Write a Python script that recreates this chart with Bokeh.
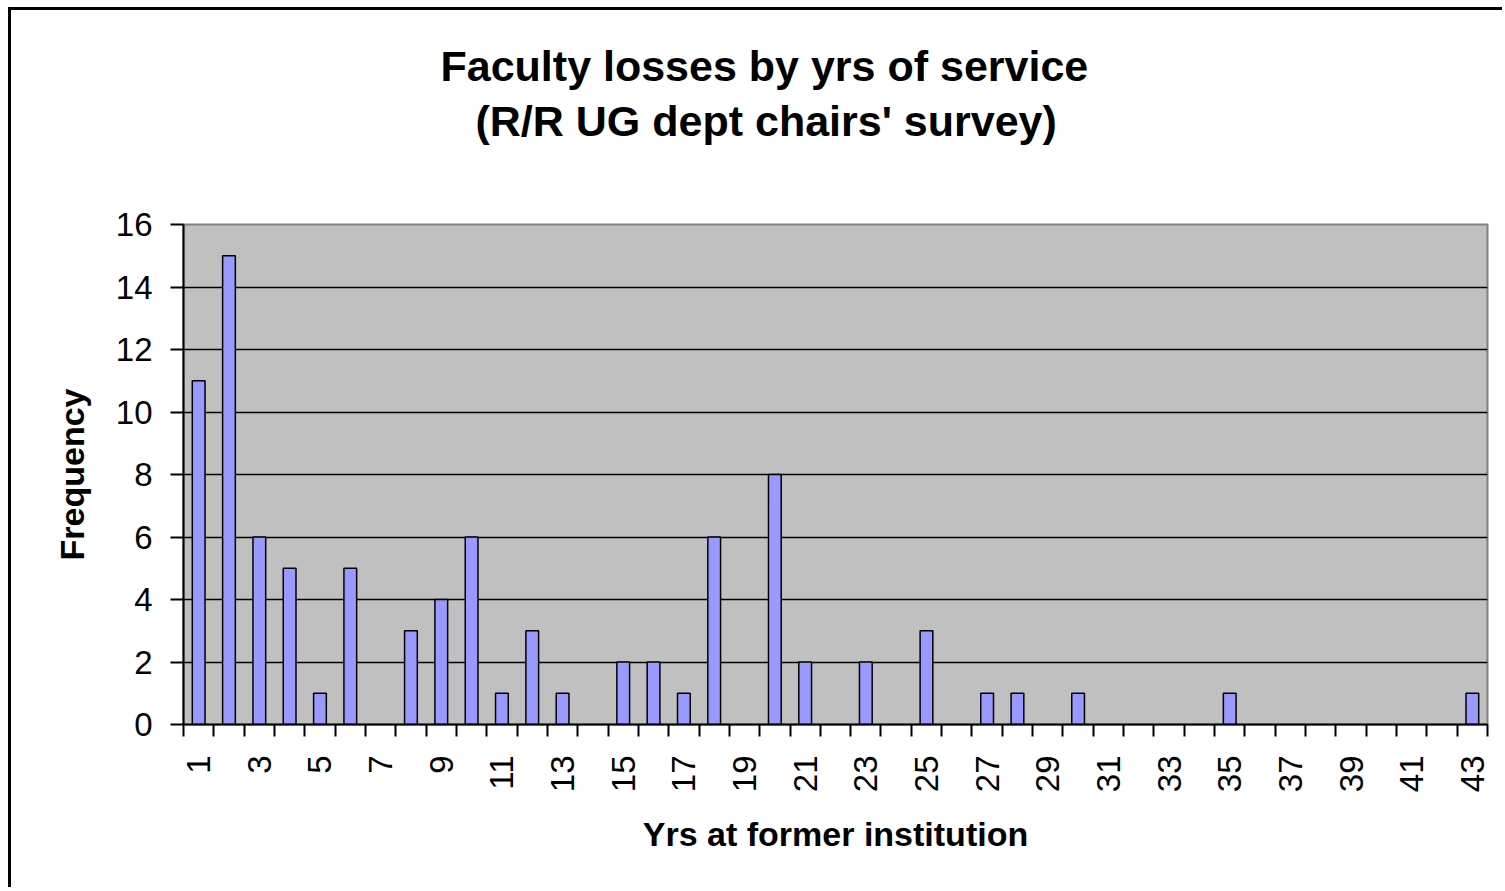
import math
from bokeh.plotting import figure
from bokeh.models import Range1d, FixedTicker, Title, ColumnDataSource, CDSView, BooleanFilter
from bokeh.embed import file_html
from bokeh.resources import INLINE

# Data
years = list(range(1, 44))
counts = [11, 15, 6, 5, 1, 5, 0, 3, 4, 6, 1, 3, 1, 0, 2, 2, 1, 6, 0, 8, 2, 0,
          2, 0, 3, 0, 1, 1, 0, 1, 0, 0, 0, 0, 1, 0, 0, 0, 0, 0, 0, 0, 1]
x_tick_labels = list(range(1, 44, 2))
y_ticks = list(range(0, 17, 2))
title_lines = ["Faculty losses by yrs of service", "(R/R UG dept chairs' survey)"]
x_label = "Yrs at former institution"
y_label = "Frequency"

FONT = "Liberation Sans"

p = figure(width=1494, height=880,
           x_range=Range1d(0.5, len(years) + 0.5), y_range=Range1d(0, 16),
           output_backend="svg", toolbar_location=None,
           min_border_left=172, min_border_right=18,
           min_border_top=214, min_border_bottom=166)
p.styles = {"margin-left": "8px", "margin-top": "7px",
            "border-left": "3px solid black", "border-top": "3px solid black"}

p.background_fill_color = "#C0C0C0"
p.border_fill_color = "white"
p.outline_line_color = "#808080"
p.outline_line_width = 2

src = ColumnDataSource(data=dict(x=years, top=counts))
view = CDSView(filter=BooleanFilter([c > 0 for c in counts]))
p.vbar(x="x", top="top", width=0.42, bottom=0, source=src, view=view,
       fill_color="#9999FF", line_color="black", line_width=1.5)

# Grid
p.xgrid.visible = False
p.ygrid.ticker = FixedTicker(ticks=y_ticks[1:-1])
p.ygrid.grid_line_color = "black"
p.ygrid.grid_line_width = 1.5

# Y axis
ya = p.yaxis[0]
ya.ticker = FixedTicker(ticks=y_ticks)
ya.axis_line_color = "black"
ya.axis_line_width = 2
ya.major_tick_line_width = 2
ya.major_tick_out = 13
ya.major_tick_in = 0
ya.minor_tick_out = 0
ya.minor_tick_in = 0
ya.major_label_standoff = 18
ya.major_label_text_font = FONT
ya.major_label_text_font_size = "33px"
ya.major_label_text_color = "black"
ya.axis_label = y_label
ya.axis_label_text_font = FONT
ya.axis_label_text_font_size = "34px"
ya.axis_label_text_font_style = "bold"
ya.axis_label_text_color = "black"
ya.axis_label_standoff = 22

# X axis
xa = p.xaxis[0]
xa.ticker = FixedTicker(ticks=x_tick_labels,
                        minor_ticks=[y + 0.5 for y in range(0, len(years) + 1)])
xa.axis_line_color = "black"
xa.axis_line_width = 2
xa.major_tick_out = 0
xa.major_tick_in = 0
xa.minor_tick_out = 12
xa.minor_tick_in = 0
xa.minor_tick_line_width = 2
xa.minor_tick_line_color = "black"
xa.major_label_orientation = math.pi / 2
xa.major_label_standoff = 19
xa.major_label_text_font = FONT
xa.major_label_text_font_size = "33px"
xa.major_label_text_color = "black"
xa.axis_label = x_label
xa.axis_label_text_font = FONT
xa.axis_label_text_font_size = "34px"
xa.axis_label_text_font_style = "bold"
xa.axis_label_text_color = "black"
xa.axis_label_standoff = 20

# Title (two lines) stacked above the frame; spacer closest to frame
p.add_layout(Title(text=" ", text_font_size="1px", standoff=72), "above")
p.add_layout(Title(text=title_lines[1], align="left", offset=292, standoff=10,
                   text_font=FONT, text_font_size="43px", text_font_style="bold",
                   text_color="black"), "above")
p.add_layout(Title(text=title_lines[0], align="left", offset=257, standoff=0,
                   text_font=FONT, text_font_size="43px", text_font_style="bold",
                   text_color="black"), "above")

open("out.html", "w").write(file_html(p, INLINE))
